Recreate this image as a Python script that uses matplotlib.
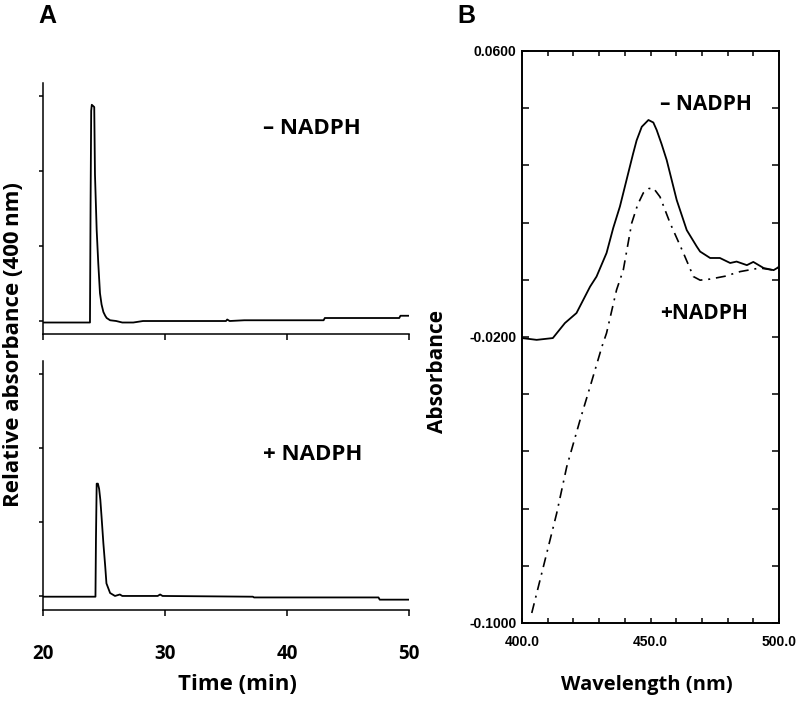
import matplotlib
matplotlib.use("Agg")
import matplotlib.pyplot as plt

# -------------------------------
# DATA
# -------------------------------
# Panel A: HPLC traces, relative absorbance at 400 nm
top_time = [20.0, 23.85, 23.9, 23.95, 24.0, 24.2, 24.26, 24.4, 24.53, 24.67, 24.8, 24.95,
            25.1, 25.22, 25.5, 26.0, 26.5, 27.4, 28.2, 35.0, 35.1, 35.3, 36.5, 43.0, 43.1,
            49.2, 49.3, 50.0]
top_abs = [-0.02, -0.02, 1.57, 2.8, 2.88, 2.85, 1.95, 1.21, 0.77, 0.37, 0.22, 0.12,
           0.07, 0.04, 0.01, 0.0, -0.02, -0.02, 0.0, 0.0, 0.02, 0.0, 0.01, 0.01, 0.04,
           0.04, 0.07, 0.07]

bot_time = [20.0, 24.3, 24.34, 24.4, 24.5, 24.6, 24.7, 24.8, 24.95, 25.1, 25.2, 25.5,
            25.9, 26.3, 26.5, 29.4, 29.6, 29.8, 37.2, 37.3, 47.5, 47.6, 50.0]
bot_abs = [-0.01, -0.01, 0.76, 1.52, 1.52, 1.45, 1.3, 1.07, 0.71, 0.40, 0.17, 0.04,
           0.0, 0.02, 0.0, 0.0, 0.02, 0.0, -0.01, -0.02, -0.02, -0.05, -0.05]

time_ticks = [20, 30, 40, 50]
rel_ticks = [0, 1, 2, 3]

# Panel B: difference spectra
wl_minus = [400, 405.7, 412, 416.7, 421.2, 426.5, 429, 432.9, 435.5, 438.1, 440.7, 443.2,
            444.6, 446.6, 449.2, 451.1, 452.4, 454.3, 456.3, 460.2, 464.1, 468, 469.3,
            473.2, 477, 481, 483.5, 487.5, 490, 494, 497.9, 500]
abs_minus = [-0.0203, -0.0208, -0.0203, -0.0161, -0.0133, -0.0059, -0.0031, 0.0035,
             0.0105, 0.0165, 0.0240, 0.0312, 0.0350, 0.0388, 0.0407, 0.0400, 0.0379,
             0.0340, 0.0295, 0.0183, 0.0099, 0.0053, 0.0039, 0.0021, 0.0021, 0.0007,
             0.0011, 0.0001, 0.0010, -0.0007, -0.0013, -0.0004]

wl_plus = [403.8, 408.3, 413.5, 417.4, 422.6, 426.5, 431.1, 432.9, 436.8, 439.4, 442.7,
           445.0, 447.2, 449.3, 451.1, 453.7, 457.6, 462.8, 466.7, 469.3, 473.2, 479.0,
           484.9, 492.6, 497.9, 500]
abs_plus = [-0.0972, -0.0843, -0.0693, -0.0563, -0.0432, -0.0339, -0.0227, -0.0189,
            -0.0068, -0.0013, 0.0119, 0.0170, 0.0203, 0.0215, 0.0217, 0.0192, 0.0119,
            0.0035, -0.0031, -0.0041, -0.0038, -0.0030, -0.0017, -0.0007, -0.0013,
            -0.0004]

wl_major = [420, 440, 460, 480]
wl_ticks = [400, 410, 420, 430, 440, 450, 460, 470, 480, 490, 500]
wl_labels = ["400.0", "", "", "", "", "450.0", "", "", "", "", "500.0"]
ab_ticks = [-0.1, -0.084, -0.068, -0.052, -0.036, -0.02, -0.004, 0.012, 0.028, 0.044, 0.06]
ab_labels = ["-0.1000", "", "", "", "", "-0.0200", "", "", "", "", "0.0600"]

LABEL_FONT = "Open Sans"
fig = plt.figure(figsize=(7.97, 7.02), dpi=100)


# -------------------------------
# PANEL A
# -------------------------------
def chrom_axes(rect, t, a, ylim, text, ty, show_xlabels):
    ax = fig.add_axes(rect)
    ax.plot(t, a, color="black", lw=1.3)
    ax.set_xlim(20, 50)
    ax.set_ylim(*ylim)
    for s in ["top", "right"]:
        ax.spines[s].set_visible(False)
    for s in ["left", "bottom"]:
        ax.spines[s].set_linewidth(1.1)
    ax.set_yticks(rel_ticks)
    ax.set_yticklabels([])
    ax.tick_params(axis="y", direction="out", length=3, width=1.1)
    ax.set_xticks(time_ticks)
    ax.tick_params(axis="x", direction="out", length=4.5, width=1.1, pad=20)
    if show_xlabels:
        ax.set_xticklabels([str(v) for v in time_ticks], fontfamily=LABEL_FONT,
                           fontweight="bold", fontsize=13.5)
    else:
        ax.set_xticklabels([])
    ax.text(38.0, ty, text, fontfamily=LABEL_FONT, fontweight="bold", fontsize=16,
            va="center", ha="left")
    return ax


chrom_axes([43 / 797, 1 - 334 / 702, 366 / 797, 251 / 702], top_time, top_abs,
           (-0.173, 3.17), "\u2013 NADPH", 2.57, False)
chrom_axes([43 / 797, 1 - 610 / 702, 366 / 797, 249 / 702], bot_time, bot_abs,
           (-0.19, 3.18), "+ NADPH", 1.92, True)

fig.text(14 / 797, 1 - 345 / 702, "Relative absorbance (400\u2009nm)", rotation=90,
         ha="center", va="center", fontfamily=[LABEL_FONT, "DejaVu Sans"],
         fontweight="bold", fontsize=16)
fig.text(237 / 797, 1 - 685 / 702, "Time (min)", ha="center", va="center",
         fontfamily=LABEL_FONT, fontweight="bold", fontsize=16)
fig.text(47 / 797, 1 - 16 / 702, "A", ha="center", va="center",
         fontfamily="Liberation Sans", fontweight="bold", fontsize=18)

# -------------------------------
# PANEL B
# -------------------------------
ax2 = fig.add_axes([522 / 797, 1 - 623 / 702, 257 / 797, 572 / 702])
ax2.plot(wl_minus, abs_minus, color="black", lw=1.3)
ax2.plot(wl_plus, abs_plus, color="black", lw=1.2, linestyle=(0, (6, 3.5, 1.2, 3.5)))
ax2.set_xlim(400, 500)
ax2.set_ylim(-0.1, 0.06)
for s in ax2.spines.values():
    s.set_linewidth(1.4)

ax2.set_xticks(wl_ticks)
ax2.set_xticklabels(wl_labels, fontfamily="Liberation Sans", fontweight="bold",
                    fontsize=10)
ax2.set_xticks(wl_major, minor=True)
ax2.set_yticks(ab_ticks)
ax2.set_yticklabels(ab_labels, fontfamily="Liberation Sans", fontweight="bold",
                    fontsize=10)
ax2.tick_params(which="both", direction="in", top=True, right=True, width=1.1)
ax2.tick_params(which="major", length=3.5)
ax2.tick_params(axis="y", which="major", length=5, pad=4)
ax2.tick_params(axis="x", which="minor", length=5.5)
ax2.tick_params(axis="x", which="major", pad=9)

ax2.set_ylabel("Absorbance", fontfamily=LABEL_FONT, fontweight="bold", fontsize=15)
ax2.yaxis.set_label_coords(-0.288, 0.44)
ax2.text(453.7, 0.0449, "\u2013 NADPH", fontfamily=LABEL_FONT, fontweight="bold",
         fontsize=15, va="center", ha="left")
ax2.text(453.7, -0.0133, "+NADPH", fontfamily=LABEL_FONT, fontweight="bold",
         fontsize=15, va="center", ha="left")

fig.text(647 / 797, 1 - 685 / 702, "Wavelength (nm)", ha="center", va="center",
         fontfamily=LABEL_FONT, fontweight="bold", fontsize=14.5)
fig.text(466 / 797, 1 - 16 / 702, "B", ha="center", va="center",
         fontfamily="Liberation Sans", fontweight="bold", fontsize=18)

fig.savefig("out.png", dpi=100)
